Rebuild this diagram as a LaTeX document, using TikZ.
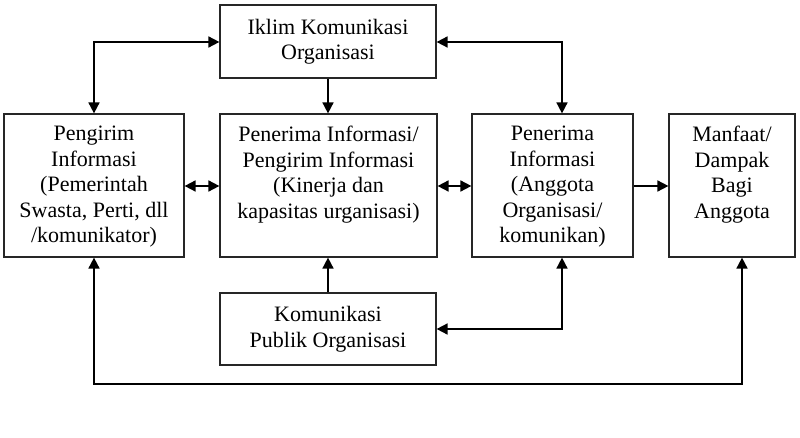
\documentclass[tikz,border=0pt]{standalone}
\usepackage{fontspec}
\setmainfont{Liberation Serif}
\usetikzlibrary{arrows.meta}
\begin{document}
\begin{tikzpicture}[x=1pt,y=-1pt,
  box/.style={draw=black!85, line width=1.2pt, rectangle, inner sep=0pt},
  txt/.style={align=center, inner sep=0pt, font=\fontsize{22}{25.5}\selectfont},
  conn/.style={line width=1.7pt, {Triangle[length=11pt,width=11pt]}-{Triangle[length=11pt,width=11pt]}},
  conn1/.style={line width=1.7pt, -{Triangle[length=11pt,width=11pt]}}]
\useasboundingbox (0,0) rectangle (800,438);
% boxes
\node[box, minimum width=216pt, minimum height=73pt] (iklim) at (328,41.5) {};
\node[box, minimum width=180pt, minimum height=143pt] (peng) at (94,185.5) {};
\node[box, minimum width=217pt, minimum height=143pt] (mid) at (328.5,185.5) {};
\node[box, minimum width=161pt, minimum height=143pt] (pen) at (552.5,185.5) {};
\node[box, minimum width=126pt, minimum height=143pt] (manf) at (732,185.5) {};
\node[box, minimum width=216pt, minimum height=72pt] (kom) at (328,329) {};
% texts
\node[txt] (iklimt) at (iklim.center) {Iklim Komunikasi\\Organisasi};
\node[txt] (komt) at (kom.center) {Komunikasi\\Publik Organisasi};
\node[txt, anchor=north] (pengt) at ([yshift=-12.5pt]peng.north) {Pengirim\\Informasi\\(Pemerintah\\Swasta, Perti, dll\\/komunikator)};
\node[txt, anchor=north] (midt) at ([yshift=-12.5pt]mid.north) {Penerima Informasi/\\Pengirim Informasi\\(Kinerja dan\\kapasitas urganisasi)};
\node[txt, anchor=north] (pent) at ([yshift=-12.5pt]pen.north) {Penerima\\Informasi\\(Anggota\\Organisasi/\\komunikan)};
\node[txt, anchor=north] (manft) at ([yshift=-12.5pt]manf.north) {Manfaat/\\Dampak\\Bagi\\Anggota};
% coordinates
\coordinate (c1) at (94,42);
\coordinate (c2) at (562,42);
\coordinate (c3) at (562,329);
\coordinate (c4) at (94,384);
\coordinate (c5) at (742,384);
% connectors
\draw[conn] (peng.north -| c1) |- (iklim.west |- c1);
\draw[conn] (iklim.east |- c2) -| (pen.north -| c2);
\draw[conn1] (iklim.south) -- (mid.north -| iklim.south);
\draw[conn1] (kom.north) -- (mid.south -| kom.north);
\draw[conn] (peng.east |- 0,186) -- (mid.west |- 0,186);
\draw[conn] (mid.east |- 0,186) -- (pen.west |- 0,186);
\draw[conn1] (pen.east |- 0,186) -- (manf.west |- 0,186);
\draw[conn] (kom.east |- c3) -| (pen.south -| c3);
\draw[conn] (peng.south -| c4) |- (c5) -- (manf.south -| c5);
\end{tikzpicture}
\end{document}
